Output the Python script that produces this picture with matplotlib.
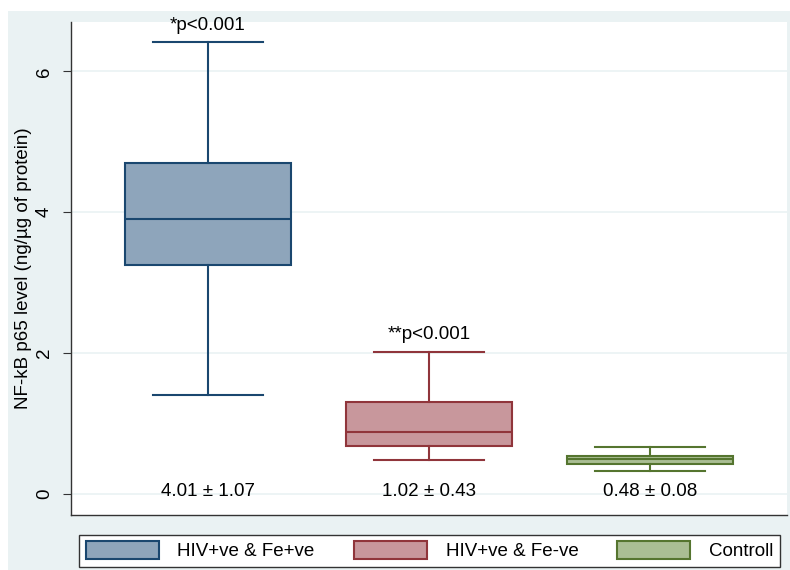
import matplotlib.pyplot as plt
from matplotlib.patches import Patch, Rectangle

plt.rcParams["font.family"] = ["Liberation Sans", "DejaVu Sans"]

# box statistics
groups = ["HIV+ve & Fe+ve", "HIV+ve & Fe-ve", "Controll"]
whislo = [1.40, 0.48, 0.33]
q1 = [3.25, 0.68, 0.43]
med = [3.90, 0.88, 0.50]
q3 = [4.70, 1.30, 0.54]
whishi = [6.41, 2.02, 0.67]
mean_sd = ["4.01 ± 1.07", "1.02 ± 0.43", "0.48 ± 0.08"]
p_labels = ["*p<0.001", "**p<0.001", ""]
yticks = [0, 2, 4, 6]

edge_colors = ["#1a476f", "#90353b", "#55752f"]
fill_colors = ["#8ea5bb", "#c8979c", "#aabe94"]
bg = "#eaf2f3"
fs = 13.5

fig = plt.figure(figsize=(7.9, 5.7), dpi=100, facecolor="white")
fig.patches.append(Rectangle((8 / 790, 0), 1, 1 - 11 / 570, transform=fig.transFigure,
                             facecolor=bg, edgecolor="none", zorder=-10))
ax = fig.add_axes([71 / 790, 1 - 515 / 570, (787 - 71) / 790, (515 - 22) / 570])
ax.set_facecolor("white")

stats = []
for i in range(len(groups)):
    stats.append({"whislo": whislo[i], "q1": q1[i], "med": med[i],
                  "q3": q3[i], "whishi": whishi[i], "fliers": []})

positions = [1, 2, 3]
bp = ax.bxp(stats, positions=positions, widths=0.75, patch_artist=True,
            showfliers=False, capwidths=0.5)
for i in range(len(groups)):
    ec = edge_colors[i]
    bp["boxes"][i].set(facecolor=fill_colors[i], edgecolor=ec, linewidth=1.5)
    bp["medians"][i].set(color=ec, linewidth=1.5)
    for w in bp["whiskers"][2 * i:2 * i + 2]:
        w.set(color=ec, linewidth=1.5)
    for c in bp["caps"][2 * i:2 * i + 2]:
        c.set(color=ec, linewidth=1.5)

for i, x in enumerate(positions):
    ax.text(x, 0.03, mean_sd[i], ha="center", va="center", fontsize=fs)
    if p_labels[i]:
        ax.text(x, whishi[i] + 0.24, p_labels[i], ha="center", va="center", fontsize=fs)

ax.set_xlim(0.38, 3.62)
ax.set_ylim(-0.30, 6.70)
ax.set_xticks([])
ax.set_yticks(yticks)
ax.set_yticklabels([str(t) for t in yticks], rotation=90, va="center", fontsize=fs)
ax.tick_params(axis="y", length=6, color="#333333", pad=7)
ax.grid(axis="y", color=bg, linewidth=1.2)
ax.set_axisbelow(True)
for s in ["top", "right"]:
    ax.spines[s].set_visible(False)
for s in ["left", "bottom"]:
    ax.spines[s].set_color("#333333")
    ax.spines[s].set_linewidth(1.0)
ax.set_ylabel("NF-kB p65 level (ng/µg of protein)", fontsize=fs, labelpad=3)

handles = [Patch(facecolor=fill_colors[i], edgecolor=edge_colors[i], linewidth=1.5, label=groups[i])
           for i in range(len(groups))]
leg = fig.legend(handles=handles, ncol=3, loc="lower left",
                 bbox_to_anchor=(79 / 790, 1 - 567 / 570, (780 - 79) / 790, (567 - 529) / 570),
                 mode="expand", fancybox=False, framealpha=1, edgecolor="#333333",
                 fontsize=fs, handlelength=3.9, handleheight=1.1, handletextpad=1.0,
                 borderaxespad=0, borderpad=0.35, columnspacing=2.0)
leg.get_frame().set_linewidth(1.0)

fig.savefig("out.png", dpi=100, facecolor=fig.get_facecolor())
